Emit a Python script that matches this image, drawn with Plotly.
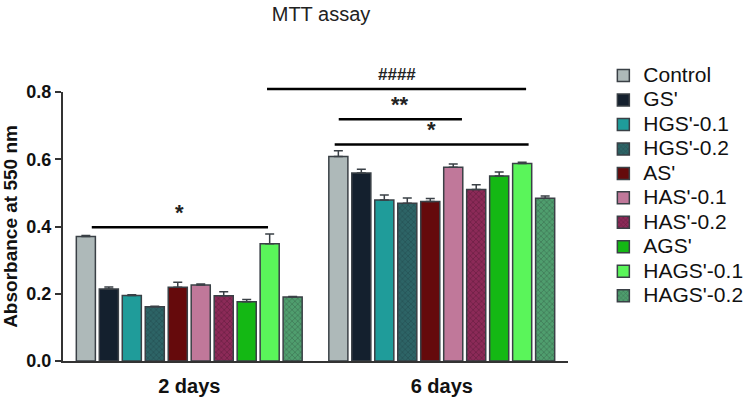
import plotly.graph_objects as go

# ---- data ----
days = ["2 days", "6 days"]
groups = ["Control", "GS'", "HGS'-0.1", "HGS'-0.2", "AS'", "HAS'-0.1", "HAS'-0.2",
          "AGS'", "HAGS'-0.1", "HAGS'-0.2"]
means = {
    "Control":   [0.370, 0.608],
    "GS'":       [0.214, 0.559],
    "HGS'-0.1":  [0.195, 0.479],
    "HGS'-0.2":  [0.161, 0.469],
    "AS'":       [0.219, 0.474],
    "HAS'-0.1":  [0.226, 0.576],
    "HAS'-0.2":  [0.194, 0.510],
    "AGS'":      [0.176, 0.550],
    "HAGS'-0.1": [0.349, 0.587],
    "HAGS'-0.2": [0.190, 0.484],
}
errors = {
    "Control":   [0.003, 0.017],
    "GS'":       [0.006, 0.011],
    "HGS'-0.1":  [0.002, 0.015],
    "HGS'-0.2":  [0.002, 0.016],
    "AS'":       [0.015, 0.009],
    "HAS'-0.1":  [0.003, 0.010],
    "HAS'-0.2":  [0.012, 0.014],
    "AGS'":      [0.007, 0.012],
    "HAGS'-0.1": [0.029, 0.004],
    "HAGS'-0.2": [0.002, 0.007],
}
y_ticks = [0.0, 0.2, 0.4, 0.6, 0.8]

# significance brackets (x in category-index units, y in absorbance units)
sig_x0 = [-0.386, 0.308, 0.592, 0.576]
sig_x1 = [0.312, 1.334, 1.080, 1.344]
sig_y = [0.398, 0.809, 0.719, 0.644]
sig_label = ["*", "####", "**", "*"]

# ---- styles ----
colors = {
    "Control": "#aeb9b9", "GS'": "#14202e", "HGS'-0.1": "#1f9c9a", "HGS'-0.2": "#2d6466",
    "AS'": "#650a0c", "HAS'-0.1": "#c0789a", "HAS'-0.2": "#8c2a58", "AGS'": "#14b814",
    "HAGS'-0.1": "#5af55a", "HAGS'-0.2": "#4f9e6e",
}
patterned = {"HGS'-0.2": "#1d3c40", "HAS'-0.2": "#3e1029", "HAGS'-0.2": "#2a4a3a"}
outline = "#3a4046"
Y_MAX = 0.8
FONT = "Liberation Sans, Arial, sans-serif"

fig = go.Figure()
for g in groups:
    marker = dict(color=colors[g], line=dict(color=outline, width=1.5))
    if g in patterned:
        marker["pattern"] = dict(shape="x", size=4, solidity=0.3,
                                 fgcolor=patterned[g], bgcolor=colors[g], fillmode="overlay")
    fig.add_trace(go.Bar(
        name='<span style="font-size:21px">' + g + "</span>",
        x=days, y=means[g], marker=marker,
        error_y=dict(type="data", symmetric=False, array=errors[g],
                     arrayminus=[0] * len(days), color=outline, thickness=1.5, width=4.5),
    ))

for x0, x1, y, lab in zip(sig_x0, sig_x1, sig_y, sig_label):
    fig.add_shape(type="line", xref="x", yref="y domain", x0=x0, x1=x1,
                  y0=y / Y_MAX, y1=y / Y_MAX, line=dict(color="black", width=2.5))
    fig.add_annotation(xref="x", yref="y domain", x=(x0 + x1) / 2, y=y / Y_MAX,
                       text=lab, showarrow=False, yanchor="bottom",
                       yshift=(0 if lab.startswith("*") else 3),
                       font=dict(size=(22 if lab.startswith("*") else 17),
                                 color="#222", family=FONT, weight="bold"))

fig.update_layout(
    width=750, height=400,
    margin=dict(l=63, r=182, t=92, b=39, autoexpand=False),
    paper_bgcolor="white", plot_bgcolor="white",
    barmode="group", bargap=0.09, bargroupgap=0.17,
    title=dict(text="MTT assay", x=321 / 750, xanchor="center",
               yref="container", y=1 - 14 / 400, yanchor="middle",
               font=dict(size=20, color="#222", family=FONT)),
    font=dict(family=FONT, color="#111"),
    legend=dict(x=1.07, y=1.125, xanchor="left", yanchor="top", maxheight=360,
                font=dict(size=16.5, color="#111", family=FONT),
                tracegroupgap=0, itemwidth=30),
    showlegend=True,
)
fig.update_xaxes(showline=True, linecolor="#333", linewidth=2, ticks="",
                 ticklabelstandoff=6,
                 tickfont=dict(size=20, family=FONT, color="#111", weight="bold"),
                 showgrid=False)
fig.update_yaxes(range=[0, Y_MAX], tickvals=y_ticks, tickformat=".1f",
                 showline=True, linecolor="#333", linewidth=2, ticks="outside",
                 ticklen=6, tickwidth=2, tickcolor="#333", showgrid=False, zeroline=False,
                 tickfont=dict(size=18, family=FONT, color="#111", weight="bold"),
                 title=dict(text="Absorbance at 550 nm", standoff=8,
                            font=dict(size=19, family=FONT, color="#111", weight="bold")))

fig.write_html("out.html", config={"displayModeBar": False},
               post_script="document.body.style.margin='0';")
